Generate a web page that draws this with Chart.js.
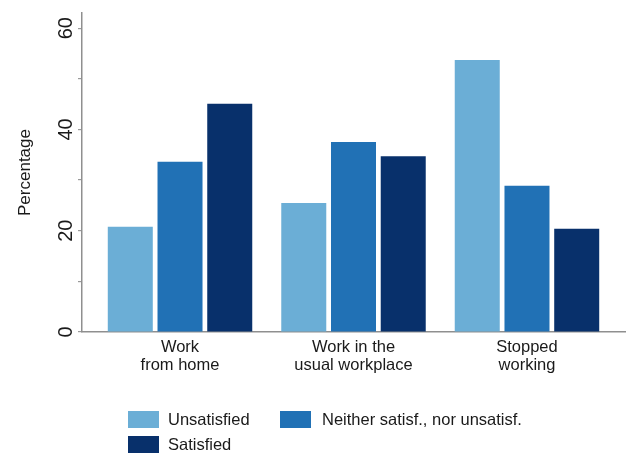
<!DOCTYPE html>
<html>
<head>
<meta charset="utf-8">
<script src="https://cdn.jsdelivr.net/npm/chart.js@4.4.1/dist/chart.umd.min.js"></script>
<style>
  html, body { margin: 0; padding: 0; background: #fff; }
  #wrap { position: relative; width: 635px; height: 456px; }
  canvas { position: absolute; left: 0; top: 0; }
  .leg { position: absolute; font-family: "Liberation Sans", Arial, sans-serif; font-size: 16.5px; color: #1a1a1a; line-height: 17px; white-space: nowrap; }
  .box { position: absolute; width: 31px; height: 17px; }
</style>
</head>
<body>
<div id="wrap">
  <canvas id="c" width="635" height="456"></canvas>
  <div id="legend"></div>
</div>
<script>
const categories = [["Work", "from home"], ["Work in the", "usual workplace"], ["Stopped", "working"]];
const seriesNames = ["Unsatisfied", "Neither satisf., nor unsatisf.", "Satisfied"];
const unsatisfied = [20.8, 25.5, 53.7];
const neither = [33.6, 37.5, 28.9];
const satisfied = [45.1, 34.7, 20.4];
const yTickLabels = [0, 20, 40, 60];
const yTickMarks = [0, 10, 20, 30, 40, 50, 60];
const colors = ["#6baed6", "#2171b5", "#08306b"];

const seriesValues = [unsatisfied, neither, satisfied];
const datasets = seriesValues.map((vals, i) => ({
  label: seriesNames[i],
  data: vals.map((v, k) => ({ x: k, y: v })),
  backgroundColor: colors[i],
  borderWidth: 0
}));

const FONT = "'Liberation Sans', Arial, sans-serif";

new Chart(document.getElementById('c'), {
  type: 'bar',
  data: { datasets },
  options: {
    responsive: false,
    animation: false,
    events: [],
    layout: { padding: { top: 13, right: 10, bottom: 74, left: 0 } },
    categoryPercentage: 0.86,
    barPercentage: 0.905,
    plugins: { legend: { display: false }, tooltip: { enabled: false } },
    scales: {
      x: {
        type: 'linear',
        offset: false,
        min: -0.565,
        max: 2.565,
        afterBuildTicks: (s) => { s.ticks = categories.map((c, k) => ({ value: k })); },
        afterFit: (s) => { s.height = 50; },
        grid: { display: false, drawTicks: false, offset: false },
        border: { display: true, color: '#8f8f8f', width: 1.5 },
        ticks: {
          autoSkip: false,
          maxRotation: 0,
          padding: 6,
          color: '#1a1a1a',
          font: { family: FONT, size: 16.5, lineHeight: 1.1 },
          callback: (v) => categories[v]
        }
      },
      y: {
        min: 0,
        max: 63,
        afterBuildTicks: (s) => { s.ticks = yTickMarks.map(v => ({ value: v })); },
        afterFit: (s) => { s.width = 82; },
        grid: { display: true, drawOnChartArea: false, drawTicks: true, tickLength: 4, color: '#9a9a9a', lineWidth: 1.2 },
        border: { display: true, color: '#8f8f8f', width: 1.5 },
        ticks: {
          minRotation: 90,
          maxRotation: 90,
          crossAlign: 'center',
          padding: 0,
          color: '#1a1a1a',
          font: { family: FONT, size: 20 },
          callback: (v) => yTickLabels.includes(v) ? String(v) : ''
        },
        title: {
          display: true,
          text: 'Percentage',
          color: '#1a1a1a',
          font: { family: FONT, size: 17 },
          padding: { top: 15, bottom: 0 }
        }
      }
    }
  }
});

// HTML legend
const legendLayout = [
  { box: [128, 411], text: [168, 411] },
  { box: [280, 411], text: [322, 411] },
  { box: [128, 436], text: [168, 436] }
];
const legEl = document.getElementById('legend');
seriesNames.forEach((name, i) => {
  const b = document.createElement('div');
  b.className = 'box';
  b.style.left = legendLayout[i].box[0] + 'px';
  b.style.top = legendLayout[i].box[1] + 'px';
  b.style.background = colors[i];
  legEl.appendChild(b);
  const t = document.createElement('div');
  t.className = 'leg';
  t.style.left = legendLayout[i].text[0] + 'px';
  t.style.top = legendLayout[i].text[1] + 'px';
  t.textContent = name;
  legEl.appendChild(t);
});
</script>
</body>
</html>
